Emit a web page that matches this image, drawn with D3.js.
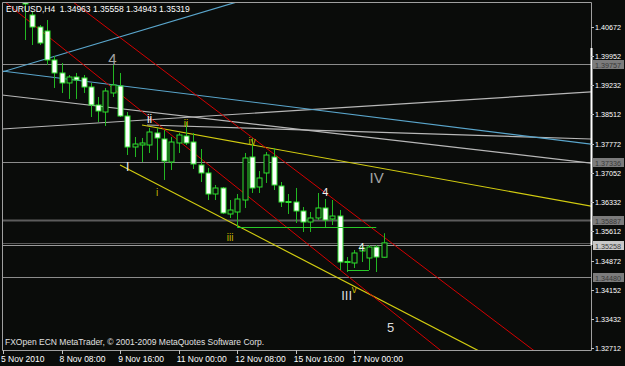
<!DOCTYPE html>
<html>
<head>
<meta charset="utf-8">
<script src="https://cdn.jsdelivr.net/npm/d3@7"></script>
<style>
  html, body { margin: 0; padding: 0; background: #0a0c0a; }
  svg { display: block; }
  text { font-family: "Liberation Sans", Arial, sans-serif; }
</style>
</head>
<body>
<svg id="chart"></svg>
<script>
// EURUSD H4, first visible bar = 5 Nov 12:00 (bar 0)
const opens  = [1.41540, 1.40970, 1.40672, 1.40573, 1.39854, 1.39532, 1.39284, 1.39432, 1.39408, 1.39184,
                1.38738, 1.38564, 1.39036, 1.39209, 1.38465, 1.37696, 1.37746, 1.37746, 1.38044, 1.37895,
                1.37324, 1.37796, 1.37969, 1.37820, 1.37250, 1.37052, 1.36531, 1.36680, 1.36035, 1.36084,
                1.36382, 1.37448, 1.36704, 1.37052, 1.37448, 1.36729, 1.36320, 1.36332, 1.36109, 1.35836,
                1.35936, 1.36184, 1.35911, 1.35985, 1.34832, 1.34820, 1.35117, 1.34944, 1.35216, 1.34963];
const highs  = [1.41590, 1.41044, 1.40722, 1.40846, 1.39953, 1.39780, 1.39482, 1.39532, 1.39482, 1.39284,
                1.38936, 1.39160, 1.39730, 1.39532, 1.38564, 1.37944, 1.37920, 1.38168, 1.38168, 1.38118,
                1.37944, 1.38044, 1.38316, 1.38044, 1.37647, 1.37176, 1.36754, 1.36704, 1.36382, 1.36531,
                1.37548, 1.37920, 1.37101, 1.37572, 1.37672, 1.36828, 1.36531, 1.36680, 1.36208, 1.36084,
                1.36556, 1.36407, 1.36382, 1.36134, 1.34968, 1.35142, 1.35316, 1.35266, 1.35266, 1.35558];
const lows   = [1.40350, 1.40226, 1.40226, 1.39730, 1.39160, 1.39036, 1.38887, 1.38887, 1.39036, 1.38440,
                1.38316, 1.38217, 1.38936, 1.38440, 1.37498, 1.37448, 1.37324, 1.37548, 1.37374, 1.36878,
                1.37126, 1.37548, 1.37746, 1.37151, 1.36828, 1.36382, 1.36382, 1.36035, 1.35936, 1.35712,
                1.36184, 1.36556, 1.36556, 1.36804, 1.36630, 1.36208, 1.36035, 1.35812, 1.35588, 1.35588,
                1.35886, 1.35712, 1.35762, 1.34646, 1.34596, 1.34696, 1.34844, 1.34646, 1.34596, 1.34943];
const closes = [1.41243, 1.40672, 1.40276, 1.39854, 1.39532, 1.39284, 1.39432, 1.39358, 1.39184, 1.38738,
                1.38589, 1.39085, 1.39234, 1.38465, 1.37696, 1.37771, 1.37796, 1.38068, 1.37920, 1.37349,
                1.37820, 1.37994, 1.37796, 1.37275, 1.37052, 1.36531, 1.36680, 1.36060, 1.36134, 1.36407,
                1.37424, 1.36680, 1.36928, 1.37498, 1.36754, 1.36332, 1.36345, 1.36109, 1.35836, 1.35936,
                1.36184, 1.35886, 1.35985, 1.34844, 1.34857, 1.35068, 1.35192, 1.35216, 1.34968, 1.35319];

const priceTicks = [1.40672, 1.39952, 1.39232, 1.38512, 1.37772, 1.37052, 1.36332, 1.35612, 1.34872, 1.34152, 1.33432, 1.32712];
const timeLabels = ['5 Nov 2010', '8 Nov 08:00', '9 Nov 16:00', '11 Nov 00:00', '12 Nov 08:00', '15 Nov 16:00', '17 Nov 00:00'];
const timeBars = [-3, 5, 13, 21, 29, 37, 45];

// horizontal levels with price boxes on the axis
const levels = [1.39757, 1.37336, 1.35887, 1.35258, 1.34480];
const bidPrice = 1.35319;

// trendlines as [bar, price] anchor pairs, drawn as rays to the right
const blueLines = [
  [[-3.14, 1.39556], [25.29, 1.41094]],
  [[-3.14, 1.39581], [77.24, 1.37771]]
];
const whiteLines = [
  [[-3.14, 1.38986], [77.24, 1.37300]],
  [[-3.14, 1.38143], [77.24, 1.39060]],
  [[16.68, 1.38242], [77.24, 1.37895]]
];
const redLines = [
  [[6.56, 1.41292], [69.45, 1.32662]],
  [[-3.14, 1.41352], [56.73, 1.32662]]
];
const yellowLines = [
  [[15.99, 1.38242], [77.24, 1.36233]],
  [[12.99, 1.37250], [61.79, 1.32662]]
];
const greenLines = [
  [[29, 1.35712], [48, 1.35712]],
  [[44, 1.34658], [47, 1.34658]]
];

// wave labels: [text, bar, price]
const grayLabels = [['4', 11.93, 1.39896], ['IV', 48.05, 1.36952]];
const whiteLabels = [['4', 41.05, 1.36580], ['4', 46.0, 1.35216], ['III', 43.95, 1.34026], ['5', 49.97, 1.33232],
                     ['ii', 17.02, 1.38391], ['I', 14.04, 1.37200]];
const yellowLabels = [['i', 18.05, 1.36580], ['ii', 22.01, 1.38267], ['iii', 28.02, 1.35440],
                      ['iv', 31.03, 1.37845], ['v', 44.98, 1.34175]];

const width = 625, height = 366;
const plot = { left: 2, right: 591, top: 2, bottom: 350 };

const x = d3.scaleLinear().domain([0, 45]).range([25, 354.3]);
const y = d3.scaleLinear().domain([1.32712, 1.40672]).range([348, 27]);

const svg = d3.select('#chart').attr('width', width).attr('height', height);

svg.append('rect').attr('width', width).attr('height', height).attr('fill', '#0a0c0a');

svg.append('clipPath').attr('id', 'clip')
  .append('rect')
  .attr('x', plot.left).attr('y', plot.top)
  .attr('width', plot.right - plot.left).attr('height', plot.bottom - plot.top);

const g = svg.append('g').attr('clip-path', 'url(#clip)');

// horizontal levels
const levelStyle = [
  { c: '#8c8c8c', w: 1 }, { c: '#8c8c8c', w: 1 }, { c: '#5c5c5c', w: 2 }, { c: '#9a9a9a', w: 1 }, { c: '#8c8c8c', w: 1 }
];
g.selectAll('.level').data(levels).enter().append('line')
  .attr('x1', plot.left).attr('x2', plot.right)
  .attr('y1', d => Math.round(y(d)) + 0.5).attr('y2', d => Math.round(y(d)) + 0.5)
  .attr('stroke', (d, i) => levelStyle[i].c)
  .attr('stroke-width', (d, i) => levelStyle[i].w);
g.append('line')
  .attr('x1', plot.left).attr('x2', plot.right)
  .attr('y1', Math.round(y(bidPrice)) + 0.5).attr('y2', Math.round(y(bidPrice)) + 0.5)
  .attr('stroke', '#5a5a5a');

// trendlines
function ray(d) {
  const x1 = x(d[0][0]), y1 = y(d[0][1]), x2 = x(d[1][0]), y2 = y(d[1][1]);
  const k = (y2 - y1) / (x2 - x1);
  const xe = plot.right + 10;
  return [x1, y1, xe, y1 + k * (xe - x1)];
}
function drawLines(data, color, w) {
  g.selectAll(null).data(data).enter().append('line')
    .attr('x1', d => ray(d)[0]).attr('y1', d => ray(d)[1])
    .attr('x2', d => ray(d)[2]).attr('y2', d => ray(d)[3])
    .attr('stroke', color).attr('stroke-width', w);
}
drawLines(whiteLines, '#b8b8b8', 1.2);
drawLines(blueLines, '#5aa6cc', 1.2);
drawLines(yellowLines, '#d2cc10', 1.2);
drawLines(redLines, '#d40000', 1);

// candles
const bars = d3.range(opens.length);
const wick = '#22b822', edge = '#2ee02e';
g.selectAll('.wick').data(bars).enter().append('line')
  .attr('x1', i => Math.round(x(i)) + 0.5).attr('x2', i => Math.round(x(i)) + 0.5)
  .attr('y1', i => y(highs[i])).attr('y2', i => y(lows[i]))
  .attr('stroke', wick).attr('stroke-width', 1);
g.selectAll('.body').data(bars).enter().append('rect')
  .attr('x', i => Math.round(x(i)) - 2)
  .attr('y', i => y(Math.max(opens[i], closes[i])))
  .attr('width', 5)
  .attr('height', i => Math.max(1, Math.abs(y(opens[i]) - y(closes[i]))))
  .attr('fill', i => closes[i] < opens[i] ? '#ffffff' : '#0a0c0a')
  .attr('stroke', edge).attr('stroke-width', 1);

// green horizontal drawings
g.selectAll(null).data(greenLines).enter().append('line')
  .attr('x1', d => x(d[0][0])).attr('y1', d => Math.round(y(d[0][1])) + 0.5)
  .attr('x2', d => x(d[1][0])).attr('y2', d => Math.round(y(d[1][1])) + 0.5)
  .attr('stroke', '#28c828').attr('stroke-width', 1);

// wave labels
function labels(data, color, size) {
  g.selectAll(null).data(data).enter().append('text')
    .attr('x', d => x(d[1])).attr('y', d => y(d[2]))
    .attr('text-anchor', 'middle').attr('dominant-baseline', 'central')
    .attr('fill', color).attr('font-size', size)
    .text(d => d[0]);
}
labels(grayLabels, '#a4a4a4', 15);
labels(whiteLabels.slice(0, 2), '#f0f0f0', 11);
labels(whiteLabels.slice(2, 4), '#dcdcdc', 13);
labels(whiteLabels.slice(4), '#f0f0f0', 12);
labels(yellowLabels, '#c8b400', 10);

// frame
svg.append('path')
  .attr('d', `M${plot.left + 0.5},${plot.top + 0.5}H${plot.right + 0.5}V${plot.bottom + 0.5}H${plot.left + 0.5}Z`)
  .attr('fill', 'none').attr('stroke', '#a0a0a0');
svg.append('line')
  .attr('x1', plot.right + 0.5).attr('x2', plot.right + 0.5)
  .attr('y1', 48).attr('y2', 245)
  .attr('stroke', '#ffffff').attr('stroke-width', 2);

// price axis
const axis = svg.append('g');
axis.selectAll('.tick').data(priceTicks).enter().append('line')
  .attr('x1', plot.right).attr('x2', plot.right + 3)
  .attr('y1', d => Math.round(y(d)) + 0.5).attr('y2', d => Math.round(y(d)) + 0.5)
  .attr('stroke', '#c0c0c0');
axis.selectAll('.lbl').data(priceTicks).enter().append('text')
  .attr('x', 595).attr('y', d => y(d) + 3)
  .attr('fill', '#ffffff').attr('font-size', 8)
  .attr('textLength', 26).attr('lengthAdjust', 'spacingAndGlyphs')
  .text(d => d.toFixed(5));

// level boxes
axis.selectAll('.box').data(levels).enter().append('rect')
  .attr('x', 593).attr('y', d => Math.round(y(d)) - 4)
  .attr('width', 31).attr('height', 9)
  .attr('fill', d => d === 1.35258 ? '#c8c8c8' : '#7c7c7c');
axis.selectAll('.boxlbl').data(levels).enter().append('text')
  .attr('x', 595).attr('y', d => Math.round(y(d)) + 3.5)
  .attr('fill', '#383838').attr('font-size', 8)
  .attr('textLength', 26).attr('lengthAdjust', 'spacingAndGlyphs')
  .text(d => d.toFixed(5));

// time axis
axis.selectAll('.tt').data(timeBars).enter().append('line')
  .attr('x1', d => Math.round(x(d)) + 0.5).attr('x2', d => Math.round(x(d)) + 0.5)
  .attr('y1', plot.bottom).attr('y2', plot.bottom + 4)
  .attr('stroke', '#c0c0c0');
axis.selectAll('.tl').data(timeLabels).enter().append('text')
  .attr('x', (d, i) => x(timeBars[i]) - 2).attr('y', 362)
  .attr('fill', '#ffffff').attr('font-size', 8.5)
  .text(d => d);

// header and footer
const last = opens.length - 1;
svg.append('text').attr('x', 6).attr('y', 12)
  .attr('fill', '#ffffff').attr('font-size', 8.5)
  .style('white-space', 'pre')
  .text(`EURUSD,H4  ${opens[last].toFixed(5)} ${highs[last].toFixed(5)} ${lows[last].toFixed(5)} ${closes[last].toFixed(5)}`);
svg.append('text').attr('x', 5).attr('y', 345)
  .attr('fill', '#e0e0e0').attr('font-size', 8.5)
  .text('FXOpen ECN MetaTrader, \u00a9 2001-2009 MetaQuotes Software Corp.');
</script>
</body>
</html>
